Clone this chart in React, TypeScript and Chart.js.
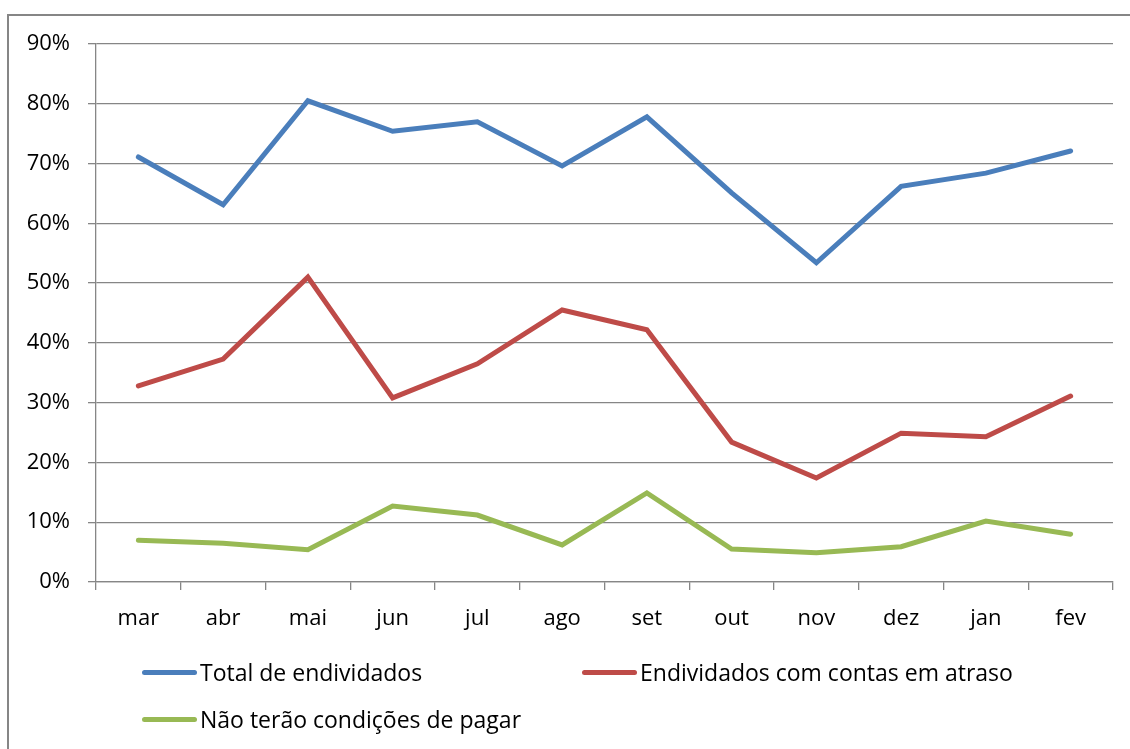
import React, { useEffect, useRef } from "react";
import { Chart, registerables } from "chart.js";

Chart.register(...registerables);

const categories = ["mar", "abr", "mai", "jun", "jul", "ago", "set", "out", "nov", "dez", "jan", "fev"];
const totalEndividados = [71.1, 63.1, 80.5, 75.4, 77.0, 69.6, 77.8, 65.1, 53.4, 66.2, 68.4, 72.1];
const contasEmAtraso = [32.8, 37.3, 51.0, 30.8, 36.5, 45.5, 42.2, 23.4, 17.4, 24.9, 24.3, 31.1];
const semCondicoes = [7.0, 6.5, 5.4, 12.7, 11.2, 6.2, 14.9, 5.5, 4.9, 5.9, 10.2, 8.0];
const seriesNames = ["Total de endividados", "Endividados com contas em atraso", "Não terão condições de pagar"];
const seriesColors = ["#4a7ebb", "#be4b48", "#98b954"];

const FONT = "'Open Sans', 'Noto Sans', sans-serif";
const GRID = "#868686";

export default function App() {
  const ref = useRef<HTMLCanvasElement | null>(null);

  useEffect(() => {
    if (!ref.current) return;
    const series = [totalEndividados, contasEmAtraso, semCondicoes];
    const chart = new Chart(ref.current, {
      type: "line",
      data: {
        labels: categories,
        datasets: series.map((d, i) => ({
          label: seriesNames[i],
          data: d,
          borderColor: seriesColors[i],
          backgroundColor: seriesColors[i],
          borderWidth: 5,
          pointRadius: 0,
          tension: 0,
          borderCapStyle: "round" as const,
          fill: false,
        })),
      },
      options: {
        responsive: false,
        animation: false,
        layout: { padding: { top: 44, right: 17, left: 0, bottom: 0 } },
        plugins: { legend: { display: false }, tooltip: { enabled: false } },
        scales: {
          x: {
            offset: true,
            grid: {
              display: true,
              drawOnChartArea: false,
              drawTicks: true,
              tickLength: 8,
              color: GRID,
              offset: true,
              lineWidth: 1.3,
            },
            border: { display: true, color: GRID, width: 1.3 },
            ticks: { color: "#000", font: { family: FONT, size: 22 }, padding: 16, maxRotation: 0 },
            afterFit: (scale: any) => {
              scale.height = 167;
            },
          },
          y: {
            min: 0,
            max: 90,
            ticks: {
              stepSize: 10,
              color: "#000",
              font: { family: FONT, size: 22 },
              padding: 18,
              callback: (v: any) => v + "%",
            },
            grid: { color: GRID, tickLength: 8, drawTicks: true, lineWidth: 1.3 },
            border: { display: true, color: GRID, width: 1.3 },
            afterFit: (scale: any) => {
              scale.width = 96;
            },
          },
        },
      },
    });
    return () => chart.destroy();
  }, []);

  const legendItem = (i: number, left: number, top: number) => (
    <div
      key={i}
      style={{
        position: "absolute",
        left,
        top,
        display: "flex",
        alignItems: "center",
        fontFamily: FONT,
        fontSize: 23,
        color: "#000",
        whiteSpace: "nowrap",
        lineHeight: "26px",
      }}
    >
      <span
        style={{
          display: "inline-block",
          width: 55,
          height: 5,
          borderRadius: 3,
          background: seriesColors[i],
          marginRight: 3,
        }}
      />
      <span>{seriesNames[i]}</span>
    </div>
  );

  return (
    <div style={{ position: "fixed", left: 0, top: 0, width: 1130, height: 749, overflow: "hidden", background: "#fff" }}>
      <div
        style={{
          position: "absolute",
          left: 7,
          top: 14,
          width: 1300,
          height: 900,
          border: `2px solid ${GRID}`,
          boxSizing: "border-box",
        }}
      />
      <canvas ref={ref} width={1130} height={749} style={{ position: "absolute", left: 0, top: 0 }} />
      {legendItem(0, 142, 659)}
      {legendItem(1, 582, 659)}
      {legendItem(2, 142, 706)}
    </div>
  );
}
